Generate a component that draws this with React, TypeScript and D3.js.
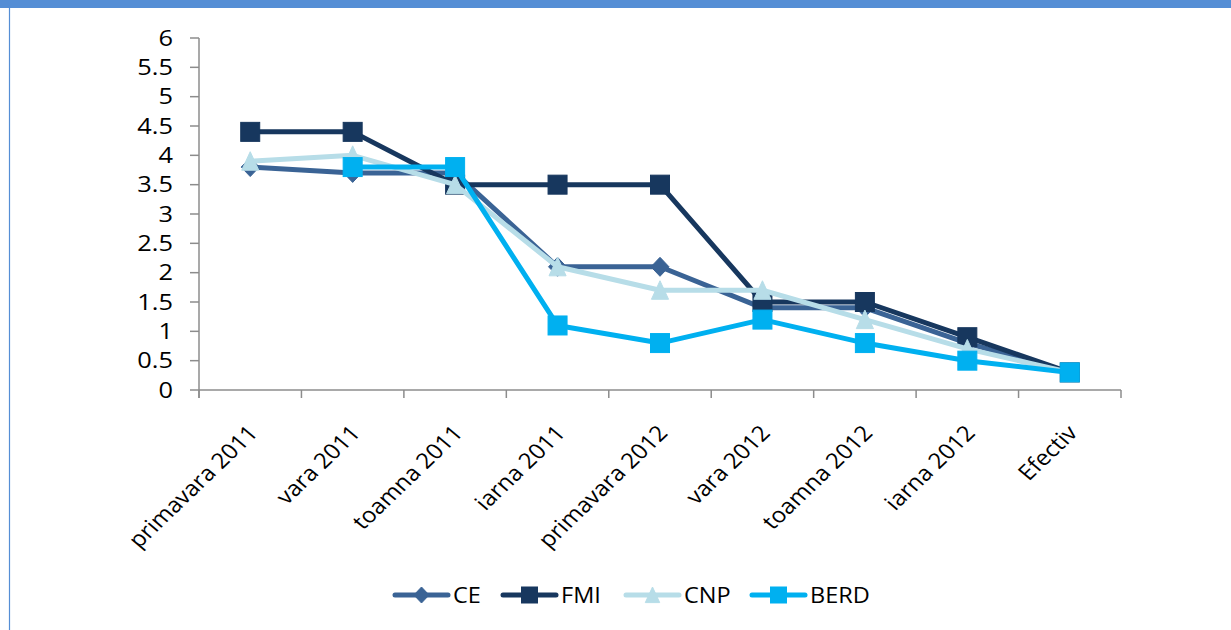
import React from "react";
import * as d3 from "d3";

const categories = [
  "primavara 2011",
  "vara 2011",
  "toamna 2011",
  "iarna 2011",
  "primavara 2012",
  "vara 2012",
  "toamna 2012",
  "iarna 2012",
  "Efectiv",
];
const seriesNames = ["CE", "FMI", "CNP", "BERD"];
const ceValues: (number | null)[] = [3.8, 3.7, 3.7, 2.1, 2.1, 1.4, 1.4, 0.8, 0.3];
const fmiValues: (number | null)[] = [4.4, 4.4, 3.5, 3.5, 3.5, 1.5, 1.5, 0.9, 0.3];
const cnpValues: (number | null)[] = [3.9, 4.0, 3.5, 2.1, 1.7, 1.7, 1.2, 0.7, 0.3];
const berdValues: (number | null)[] = [null, 3.8, 3.8, 1.1, 0.8, 1.2, 0.8, 0.5, 0.3];
const yTicks = [0, 0.5, 1, 1.5, 2, 2.5, 3, 3.5, 4, 4.5, 5, 5.5, 6];

const W = 1231;
const H = 630;
const FONT = "'Open Sans', sans-serif";
const SX = 1.12;

const colors: Record<string, string> = {
  CE: "#3A6395",
  FMI: "#17375E",
  CNP: "#B7DDE8",
  BERD: "#00B0F0",
};
const markers: Record<string, string> = {
  CE: "diamond",
  FMI: "square",
  CNP: "triangle",
  BERD: "square",
};

function Marker({ type, x, y, size, color }: { type: string; x: number; y: number; size: number; color: string }) {
  const h = size / 2;
  if (type === "square") {
    return <rect x={x - h} y={y - h} width={size} height={size} fill={color} stroke={color} strokeWidth={1} />;
  }
  if (type === "diamond") {
    const hw = h * 0.95;
    return (
      <path
        d={`M${x},${y - h}L${x + hw},${y}L${x},${y + h}L${x - hw},${y}Z`}
        fill={color}
        stroke={color}
        strokeWidth={1}
      />
    );
  }
  const hw = h * 0.9;
  return (
    <path
      d={`M${x},${y - h}L${x + hw},${y + h * 0.95}L${x - hw},${y + h * 0.95}Z`}
      fill={color}
      stroke={color}
      strokeWidth={1}
    />
  );
}

export default function App() {
  const x = d3.scaleBand<string>().domain(categories).range([199, 1121]).padding(0);
  const y = d3.scaleLinear().domain([0, 6]).range([390, 38]);
  const cx = (c: string) => (x(c) as number) + x.bandwidth() / 2;

  const data: Record<string, (number | null)[]> = {
    CE: ceValues,
    FMI: fmiValues,
    CNP: cnpValues,
    BERD: berdValues,
  };

  const line = d3
    .line<number | null>()
    .defined((d) => d != null)
    .x((_, i) => cx(categories[i]))
    .y((d) => y(d as number));

  const axisColor = "#8C8C8C";
  const boundaries = d3.range(categories.length + 1).map((i) => 199 + i * x.bandwidth());

  const legendX = [395, 503, 626, 752];
  const legendY = 595;

  return (
    <svg
      width={W}
      height={H}
      style={{ position: "absolute", left: 0, top: 0, background: "#fff" }}
      fontFamily={FONT}
    >
      <rect x={0} y={0} width={W} height={8} fill="#558ED5" />
      <line x1={9.5} y1={8} x2={9.5} y2={H} stroke="#558ED5" strokeWidth={1.2} />

      {/* y axis */}
      <line x1={199} y1={y(6)} x2={199} y2={398} stroke={axisColor} strokeWidth={1.5} />
      {yTicks.map((t) => (
        <g key={t}>
          <line x1={190} y1={y(t)} x2={199} y2={y(t)} stroke={axisColor} strokeWidth={1.5} />
          <text
            transform={`translate(173,${y(t)}) scale(1.18,1)`}
            textAnchor="end"
            dy="0.36em"
            fontSize={21.5}
            fill="#000"
          >
            {String(t)}
          </text>
        </g>
      ))}

      {/* x axis */}
      <line x1={199} y1={390} x2={1121} y2={390} stroke={axisColor} strokeWidth={1.5} />
      {boundaries.map((b, i) => (
        <line key={i} x1={b} y1={390} x2={b} y2={398} stroke={axisColor} strokeWidth={1.5} />
      ))}
      {categories.map((c) => (
        <text
          key={c}
          transform={`translate(${cx(c) + 9},${434}) scale(${SX},1) rotate(-47)`}
          textAnchor="end"
          fontSize={21.5}
          fill="#000"
        >
          {c}
        </text>
      ))}

      {/* series */}
      {seriesNames.map((s) => (
        <g key={s}>
          <path
            d={line(data[s]) || ""}
            fill="none"
            stroke={colors[s]}
            strokeWidth={5}
            strokeLinejoin="round"
            strokeLinecap="round"
          />
          {data[s].map((v, i) =>
            v == null ? null : (
              <Marker key={i} type={markers[s]} x={cx(categories[i])} y={y(v)} size={19} color={colors[s]} />
            )
          )}
        </g>
      ))}

      {/* legend */}
      {seriesNames.map((s, i) => (
        <g key={s}>
          <line
            x1={legendX[i]}
            y1={legendY}
            x2={legendX[i] + 53}
            y2={legendY}
            stroke={colors[s]}
            strokeWidth={5}
            strokeLinecap="round"
          />
          <Marker type={markers[s]} x={legendX[i] + 26.5} y={legendY} size={16} color={colors[s]} />
          <text
            transform={`translate(${legendX[i] + 58},${legendY}) scale(${SX},1)`}
            dy="0.36em"
            fontSize={21}
            fill="#000"
          >
            {s}
          </text>
        </g>
      ))}
    </svg>
  );
}
